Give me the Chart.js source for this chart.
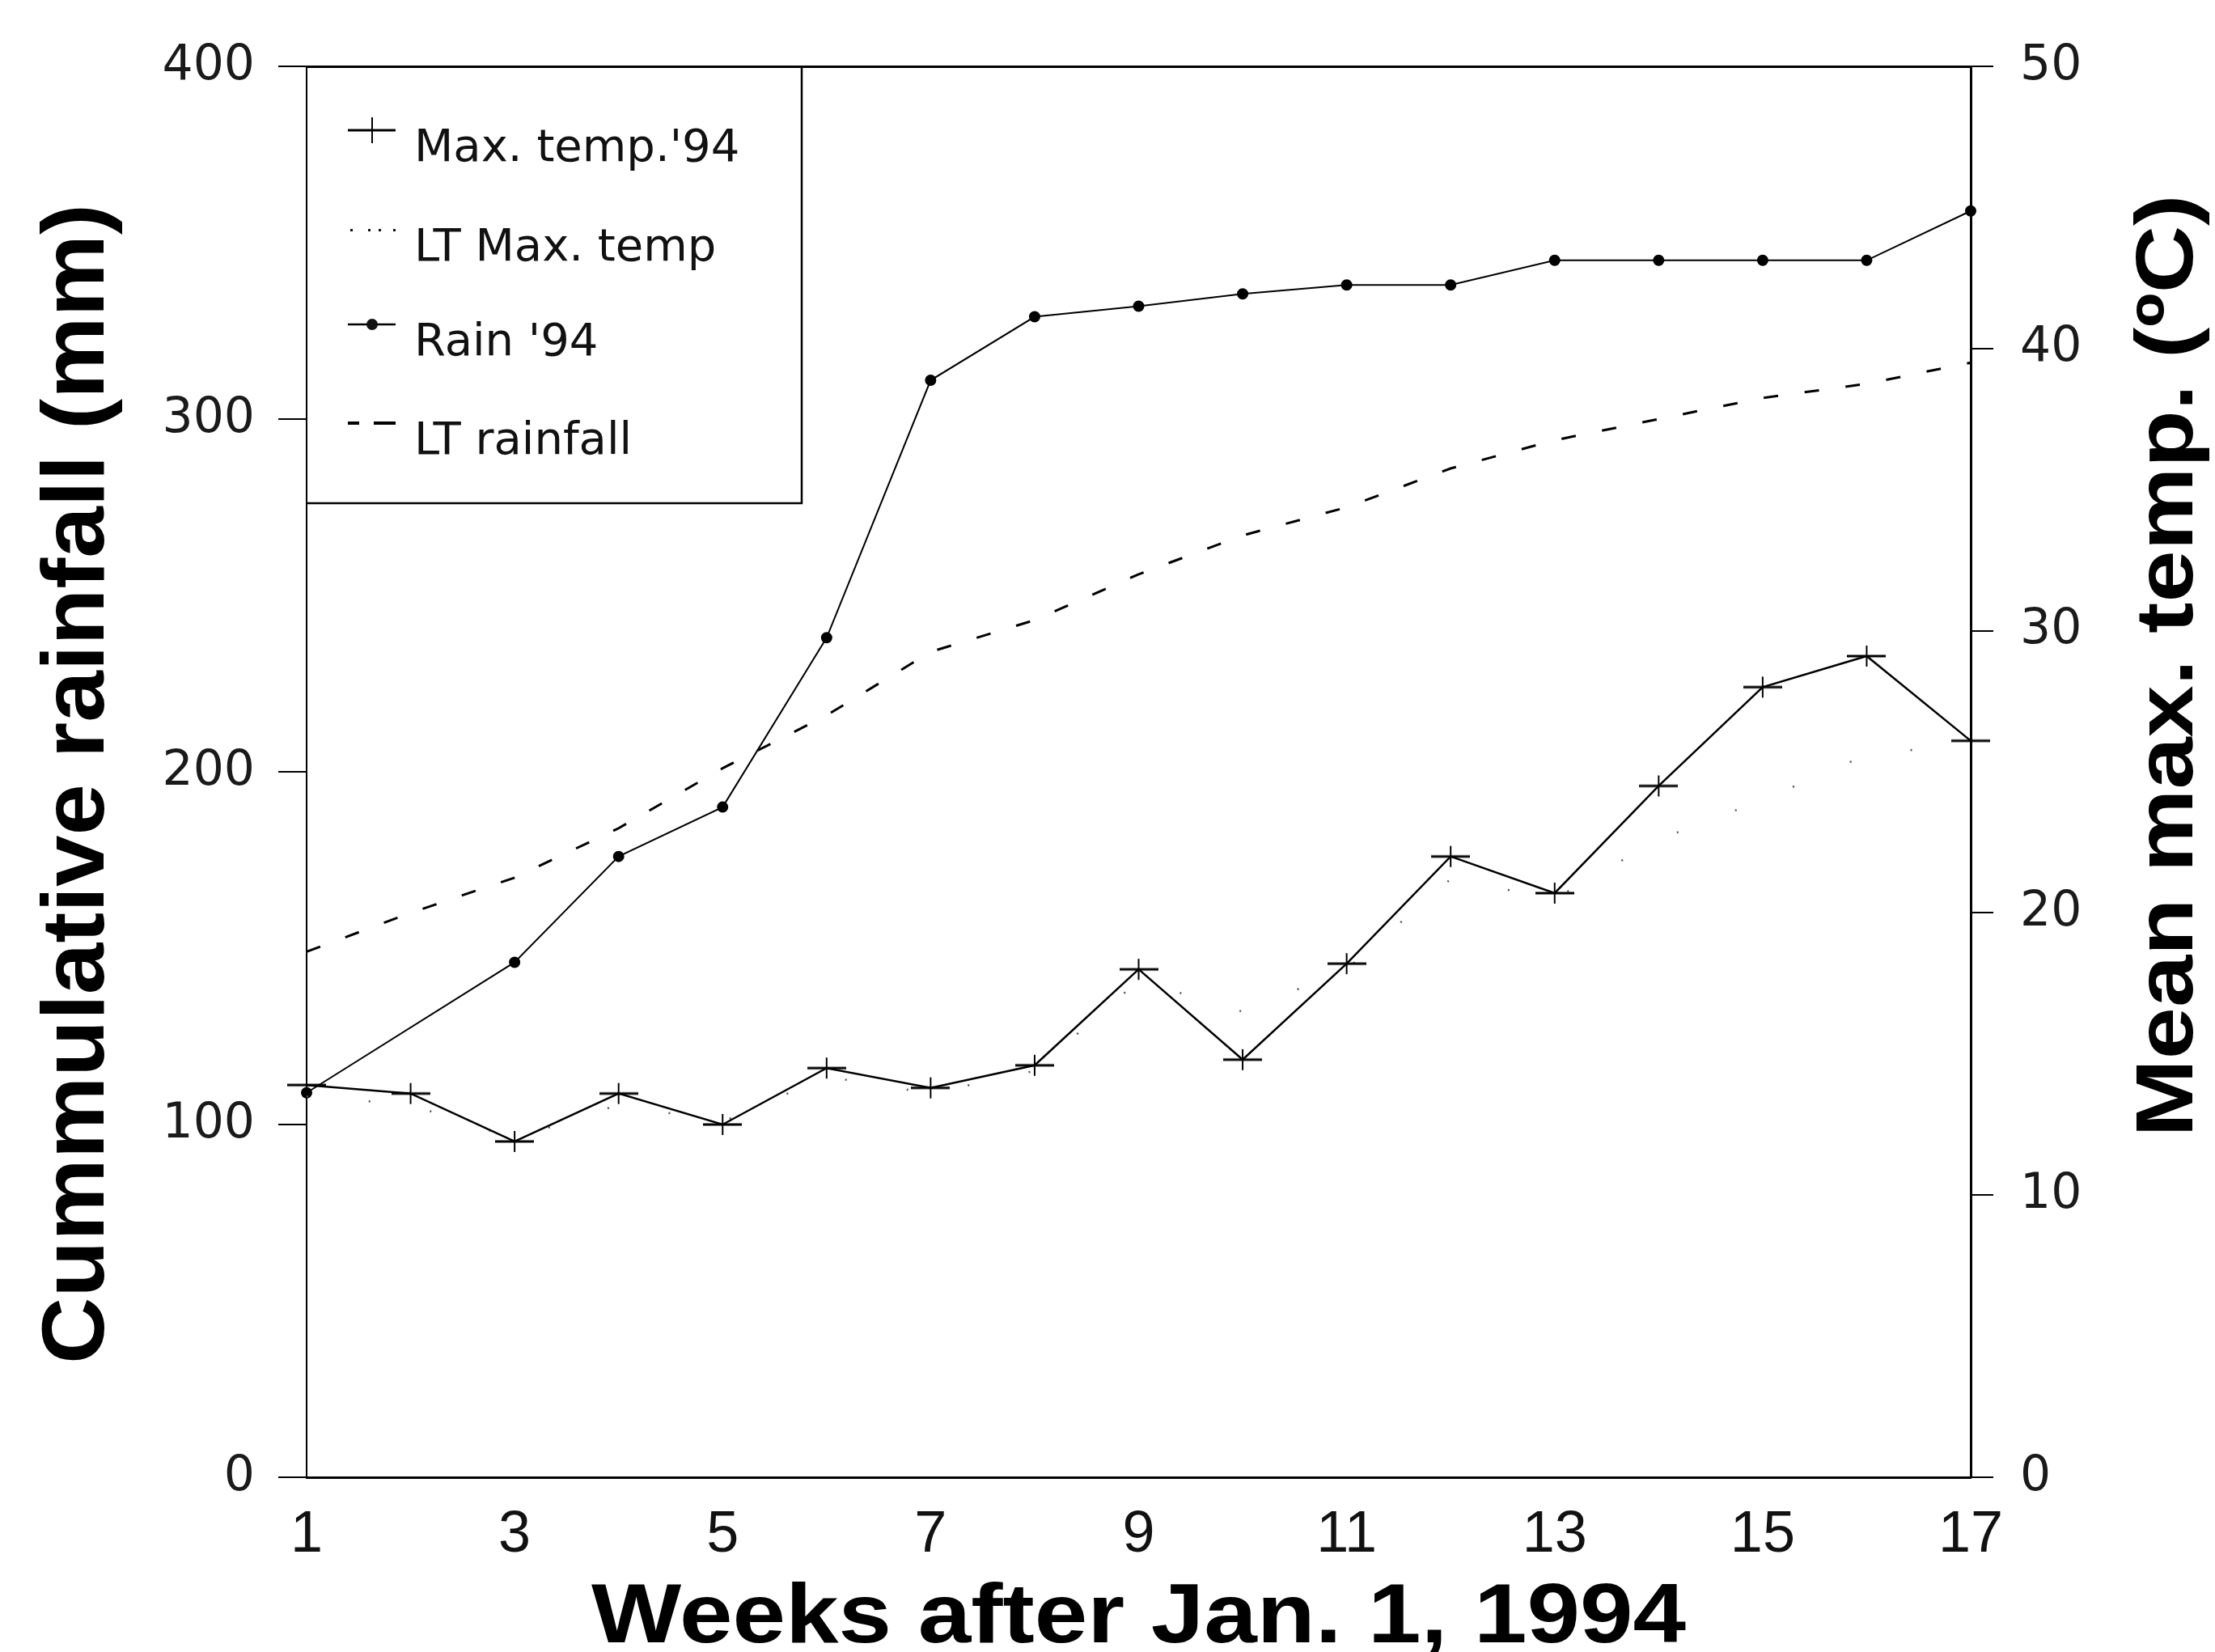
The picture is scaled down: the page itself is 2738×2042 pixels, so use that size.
<!DOCTYPE html>
<html>
<head>
<meta charset="utf-8">
<title>Weekly rainfall and temperature 1994</title>
<script src="https://cdn.jsdelivr.net/npm/chart.js@4.4.0/dist/chart.umd.min.js"></script>
<style>
  html, body { margin: 0; padding: 0; background: #fff; }
  #wrap { width: 2738px; height: 2042px; position: relative; }
</style>
</head>
<body>
<div id="wrap"><canvas id="weatherChart"></canvas></div>
<script>
// data
const weeks = [1, 2, 3, 4, 5, 6, 7, 8, 9, 10, 11, 12, 13, 14, 15, 16, 17];
const weekTicks = [1, 3, 5, 7, 9, 11, 13, 15, 17];
const rainTicks = [0, 100, 200, 300, 400];
const tempTicks = [0, 10, 20, 30, 40, 50];

const maxTemp94 = [13.9, 13.6, 11.9, 13.6, 12.5, 14.5, 13.8, 14.6, 18.0, 14.8, 18.2, 22.0, 20.7, 24.5, 28.0, 29.1, 26.1];
const ltMaxTemp = [13.5, 13.2, 12.0, 13.2, 12.6, 14.2, 13.6, 14.4, 17.6, 16.5, 18.0, 21.2, 20.5, 22.6, 24.0, 25.6, 26.0];
const rain94 = [109, null, 146, 176, 190, 238, 311, 329, 332, 335.5, 338, 338, 345, 345, 345, 345, 359];
const ltRainfall = [149, 160, 170, 184, 201, 216, 234, 243, 256, 267, 275, 286, 294, 300, 306, 310, 316];

const legendLabels = ["Max. temp.'94", 'LT Max. temp', "Rain '94", 'LT rainfall'];
const xTitle = 'Weeks after Jan. 1, 1994';
const yLeftTitle = 'Cummulative rainfall (mm)';
const yRightTitle = 'Mean max. temp. (ºC)';

const toPoints = vals => weeks.map((w, i) => ({ x: w, y: vals[i] }));

// flat "+" marker used for the temperature series
function makePlus() {
    const c = document.createElement('canvas');
    c.width = 48; c.height = 34;
    const g = c.getContext('2d');
    g.strokeStyle = '#000';
    g.lineWidth = 3;
    g.beginPath(); g.moveTo(0, 17); g.lineTo(48, 17); g.stroke();
    g.lineWidth = 2;
    g.beginPath(); g.moveTo(24, 4); g.lineTo(24, 30); g.stroke();
    return c;
}
const plusMarker = makePlus();

function drawStretched(ctx, text, x, y, rot, targetLen, font) {
    ctx.save();
    ctx.translate(x, y);
    ctx.rotate(rot);
    ctx.font = font;
    const w = ctx.measureText(text).width;
    ctx.scale(targetLen / w, 1);
    ctx.textAlign = 'center';
    ctx.textBaseline = 'alphabetic';
    ctx.fillStyle = '#000';
    ctx.fillText(text, 0, 0);
    ctx.restore();
}

const decorations = {
    id: 'decorations',
    afterDraw(chart) {
        const ctx = chart.ctx;
        const a = chart.chartArea;

        // axis titles
        drawStretched(ctx, xTitle, (a.left + a.right) / 2, 2030, 0, 1353, 'bold 104px "Liberation Sans", Arial, sans-serif');
        drawStretched(ctx, yLeftTitle, 128, 969, -Math.PI / 2, 1434, 'bold 110px "Liberation Sans", Arial, sans-serif');
        drawStretched(ctx, yRightTitle, 2710, 823, -Math.PI / 2, 1165, 'bold 100px "Liberation Sans", Arial, sans-serif');

        // legend box (top and left sides are the axes)
        const boxR = 991, boxB = 622;
        ctx.save();
        ctx.strokeStyle = '#000';
        ctx.lineWidth = 2.5;
        ctx.beginPath();
        ctx.moveTo(boxR, a.top);
        ctx.lineTo(boxR, boxB);
        ctx.lineTo(a.left, boxB);
        ctx.stroke();

        const baselines = [199, 322, 439, 561];
        const x0 = 430, x1 = 489, xm = 460;
        ctx.font = '56px "DejaVu Sans", sans-serif';
        ctx.fillStyle = '#111';
        ctx.textAlign = 'left';
        ctx.textBaseline = 'alphabetic';
        legendLabels.forEach((lab, i) => {
            const by = baselines[i];
            const sy = by - 38;
            ctx.fillText(lab, 512, by);
            ctx.lineWidth = 2.5;
            if (i === 0) {
                ctx.lineWidth = 3;
                ctx.beginPath(); ctx.moveTo(x0, sy); ctx.lineTo(x1, sy); ctx.stroke();
                ctx.lineWidth = 2;
                ctx.beginPath(); ctx.moveTo(xm, sy - 16); ctx.lineTo(xm, sy + 16); ctx.stroke();
            } else if (i === 1) {
                [433, 455, 468, 486].forEach(dx => ctx.fillRect(dx, sy - 1, 3, 3));
            } else if (i === 2) {
                ctx.beginPath(); ctx.moveTo(x0, sy); ctx.lineTo(x1, sy); ctx.stroke();
                ctx.beginPath(); ctx.arc(xm, sy, 7, 0, Math.PI * 2); ctx.fill();
            } else {
                ctx.lineWidth = 4;
                ctx.beginPath(); ctx.moveTo(x0, sy); ctx.lineTo(x0 + 14, sy); ctx.stroke();
                ctx.beginPath(); ctx.moveTo(x0 + 32, sy); ctx.lineTo(x1, sy); ctx.stroke();
            }
        });
        ctx.restore();
    }
};

const setTicks = list => scale => { scale.ticks = list.map(v => ({ value: v })); };

new Chart(document.getElementById('weatherChart'), {
    type: 'line',
    data: {
        datasets: [
            {
                label: legendLabels[0],
                data: toPoints(maxTemp94),
                yAxisID: 'yTemp',
                borderColor: '#000',
                borderWidth: 2.5,
                pointStyle: plusMarker,
                pointRadius: 20,
                clip: false
            },
            {
                label: legendLabels[1],
                data: toPoints(ltMaxTemp),
                yAxisID: 'yTemp',
                borderColor: '#555',
                borderWidth: 2.5,
                borderDash: [2, 75],
                pointRadius: 0,
                clip: false
            },
            {
                label: legendLabels[2],
                data: toPoints(rain94),
                yAxisID: 'yRain',
                spanGaps: true,
                borderColor: '#000',
                borderWidth: 2,
                pointStyle: 'circle',
                pointRadius: 6,
                pointBackgroundColor: '#000',
                pointBorderColor: '#000',
                clip: false
            },
            {
                label: legendLabels[3],
                data: toPoints(ltRainfall),
                yAxisID: 'yRain',
                borderColor: '#000',
                borderWidth: 3,
                borderDash: [18, 33],
                pointRadius: 0,
                clip: false
            }
        ]
    },
    options: {
        responsive: true,
        maintainAspectRatio: false,
        devicePixelRatio: 1,
        animation: false,
        layout: { padding: { top: 82, left: 0, right: 0, bottom: 0 } },
        plugins: { legend: { display: false }, tooltip: { enabled: false } },
        scales: {
            x: {
                type: 'linear', position: 'bottom', min: 1, max: 17,
                afterBuildTicks: setTicks(weekTicks),
                afterFit: s => { s.height = 216; },
                ticks: { font: { family: 'Liberation Sans', size: 72 }, color: '#111', padding: 29, maxRotation: 0, autoSkip: false },
                grid: { drawOnChartArea: false, drawTicks: false },
                border: { display: true, color: '#000', width: 3 }
            },
            xTop: {
                type: 'linear', position: 'top', min: 1, max: 17,
                afterFit: s => { s.height = 0; },
                ticks: { display: false },
                grid: { drawOnChartArea: false, drawTicks: false },
                border: { display: true, color: '#000', width: 3 }
            },
            yRain: {
                type: 'linear', position: 'left', min: 0, max: 400,
                afterBuildTicks: setTicks(rainTicks),
                afterFit: s => { s.width = 379; },
                ticks: { font: { family: 'DejaVu Sans', size: 60 }, color: '#1a1a1a', padding: 29 },
                grid: { drawOnChartArea: false, tickLength: 35, color: '#000', lineWidth: 2 },
                border: { display: true, color: '#000', width: 2, dash: [10, 12] }
            },
            yTemp: {
                type: 'linear', position: 'right', min: 0, max: 50,
                afterBuildTicks: setTicks(tempTicks),
                afterFit: s => { s.width = 302; },
                ticks: { font: { family: 'DejaVu Sans', size: 60 }, color: '#1a1a1a', padding: 33 },
                grid: { drawOnChartArea: false, tickLength: 28, color: '#000', lineWidth: 2 },
                border: { display: true, color: '#000', width: 3 }
            }
        }
    },
    plugins: [decorations]
});
</script>
</body>
</html>
